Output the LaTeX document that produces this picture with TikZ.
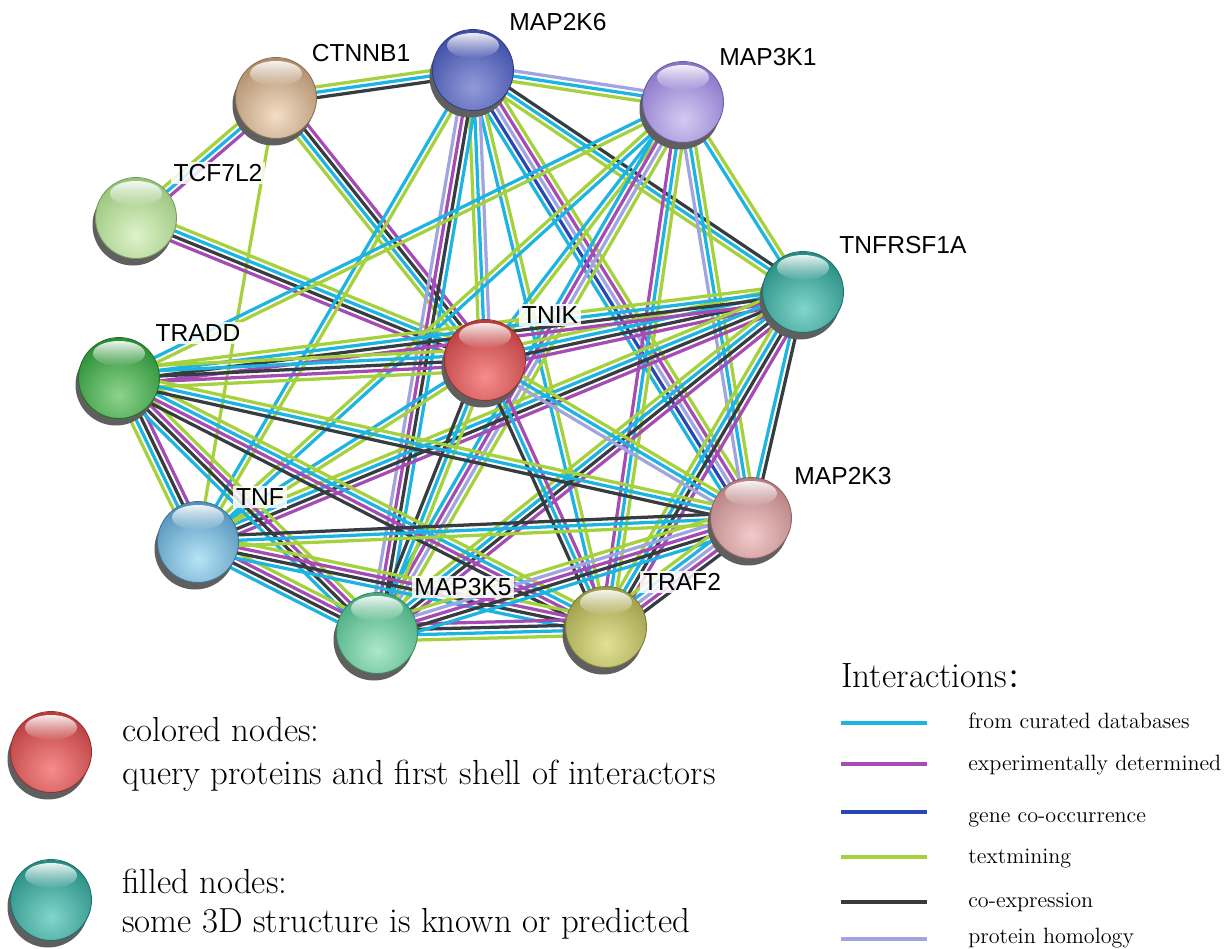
\documentclass[tikz,border=0pt]{standalone}
\usepackage{fontspec}
\newfontfamily\lab{Liberation Sans}
\newfontfamily\cjk{Noto Sans CJK SC}
\usetikzlibrary{calc,fadings}
\pgfdeclarelayer{bg}
\pgfdeclarelayer{edges}
\pgfsetlayers{bg,edges,main}
\definecolor{cu}{RGB}{30,180,225}
\definecolor{ex}{RGB}{165,75,180}
\definecolor{co}{RGB}{40,70,180}
\definecolor{tm}{RGB}{165,210,60}
\definecolor{ce}{RGB}{55,60,65}
\definecolor{ph}{RGB}{160,165,225}
\definecolor{shd}{RGB}{95,95,95}
% ball colours (dark / light)
\definecolor{CTd}{RGB}{175,140,105}\definecolor{CTl}{RGB}{242,222,198}
\definecolor{M6d}{RGB}{60,75,165}\definecolor{M6l}{RGB}{145,155,218}
\definecolor{M1d}{RGB}{135,115,200}\definecolor{M1l}{RGB}{212,202,242}
\definecolor{TCd}{RGB}{150,195,120}\definecolor{TCl}{RGB}{222,242,202}
\definecolor{TRd}{RGB}{35,140,130}\definecolor{TRl}{RGB}{130,212,202}
\definecolor{TKd}{RGB}{185,60,60}\definecolor{TKl}{RGB}{246,140,140}
\definecolor{TDd}{RGB}{40,140,50}\definecolor{TDl}{RGB}{140,212,140}
\definecolor{M3d}{RGB}{180,125,125}\definecolor{M3l}{RGB}{242,202,202}
\definecolor{TFd}{RGB}{80,145,185}\definecolor{TFl}{RGB}{182,228,246}
\definecolor{M5d}{RGB}{70,170,125}\definecolor{M5l}{RGB}{172,232,202}
\definecolor{T2d}{RGB}{155,155,70}\definecolor{T2l}{RGB}{226,226,150}
\tikzset{
  ball/.style 2 args={circle, minimum size=1.62cm, inner sep=0pt, draw=#1!80!black, line width=0.5pt,
    path picture={
      \shade[inner color=#2, outer color=#1] ([yshift=-0.35cm]path picture bounding box.center) circle (1.15cm);
      \fill[white, path fading=south, opacity=0.9] ([yshift=0.49cm]path picture bounding box.center) ellipse (0.52cm and 0.25cm);
    }},
  edge/.style={line width=1.85pt},
  lbl/.style={font=\lab\fontsize{14}{16}\selectfont, fill=white, fill opacity=0.85, text opacity=1, inner sep=1.5pt},
  legline/.style={line width=2pt},
  legtxt/.style={anchor=base west, font=\fontsize{12.6}{14}\selectfont, inner sep=0pt},
  bigtxt/.style={anchor=base west, font=\fontsize{19.8}{22}\selectfont, inner sep=0pt},
}
\newcommand\ballnode[4]{%
  \fill[shd] ($(#2)+(-3,7)$) circle (0.81cm);
  \node[ball={#3}{#4}] (#1) at (#2) {};}
\newcommand\edg[3]{%
  \begin{pgfonlayer}{edges}
  \foreach \cc [count=\i] in {#3} {\xdef\ecnt{\i}}%
  \foreach \cc [count=\i] in {#3} {%
    \pgfmathsetmacro\off{(\i-(\ecnt+1)/2)*3.05}%
    \draw[edge, draw=\cc] ($(#1)!\off pt!90:(#2)$) -- ($(#2)!\off pt!-90:(#1)$);
  }
  \end{pgfonlayer}}
\begin{document}
\begin{tikzpicture}[x=0.02cm, y=-0.02cm]
\begin{pgfonlayer}{bg}
\fill[white] (0,0) rectangle (1225,948);
\end{pgfonlayer}
\useasboundingbox (0,0) rectangle (1225,948);
% nodes
\ballnode{CT}{276,98}{CTd}{CTl}
\ballnode{M6}{473,70}{M6d}{M6l}
\ballnode{M1}{683,102}{M1d}{M1l}
\ballnode{TC}{136,218}{TCd}{TCl}
\ballnode{TR}{803,292}{TRd}{TRl}
\ballnode{TK}{485,360}{TKd}{TKl}
\ballnode{TD}{119,378}{TDd}{TDl}
\ballnode{M3}{751,518}{M3d}{M3l}
\ballnode{TF}{198,542}{TFd}{TFl}
\ballnode{M5}{377,633}{M5d}{M5l}
\ballnode{T2}{606,627}{T2d}{T2l}
% edges
\edg{CT}{M6}{ce,cu,tm}
\edg{CT}{TC}{tm,cu,ex}
\edg{CT}{TK}{tm,cu,ce,ex}
\edg{CT}{TF}{tm}
\edg{TC}{TK}{ex,ce,cu,tm}
\edg{M6}{M1}{tm,cu,ph}
\edg{M6}{TR}{tm,cu,ce}
\edg{M6}{M3}{cu,co,ph,ex,tm}
\edg{M6}{T2}{cu,tm}
\edg{M6}{TK}{tm,cu,ph}
\edg{M6}{M5}{ph,ex,ce,cu}
\edg{M6}{TF}{cu,tm}
\edg{M1}{TR}{cu,tm}
\edg{M1}{M3}{ph,cu,tm}
\edg{M1}{T2}{ex,cu,tm}
\edg{M1}{TK}{cu,tm}
\edg{M1}{M5}{cu,ex,ph,tm}
\edg{M1}{TF}{tm,cu}
\edg{M1}{TD}{cu,tm}
\edg{TR}{TK}{tm,cu,ce,ex}
\edg{TR}{TD}{tm,cu,ce,ex}
\edg{TR}{TF}{tm,cu,ce,ex}
\edg{TR}{M5}{tm,cu,ce,ex}
\edg{TR}{T2}{tm,cu,ce,ex}
\edg{TR}{M3}{cu,ce}
\edg{TK}{TD}{tm,cu,ce,ex,tm}
\edg{TK}{TF}{cu,tm}
\edg{TK}{M5}{ce,cu,tm}
\edg{TK}{T2}{ce,cu,ex}
\edg{TK}{M3}{ph,cu,tm}
\edg{TD}{TF}{tm,cu,ce,ex}
\edg{TD}{M5}{cu,ce,ex,tm}
\edg{TD}{T2}{ce,ex,cu,tm}
\edg{TD}{M3}{ce,cu,tm}
\edg{TF}{M5}{cu,ce,ex,tm}
\edg{TF}{T2}{cu,ce,ex,tm}
\edg{TF}{M3}{tm,cu,ce}
\edg{M5}{T2}{tm,cu,ce,ex}
\edg{M5}{M3}{cu,ce,ex,ph,tm}
\edg{T2}{M3}{ce,ex,ph,cu,tm}
% labels
\node[lbl] (lCT) at (361,53) {CTNNB1};
\node[lbl] (lM6) at (558,22) {MAP2K6};
\node[lbl] (lM1) at (768,57) {MAP3K1};
\node[lbl] (lTC) at (218,173) {TCF7L2};
\node[lbl] (lTR) at (903,245) {TNFRSF1A};
\node[lbl] (lTK) at (550,315) {TNIK};
\node[lbl] (lTD) at (198,333) {TRADD};
\node[lbl] (lM3) at (843,476) {MAP2K3};
\node[lbl] (lTF) at (260,497) {TNF};
\node[lbl] (lM5) at (463,587) {MAP3K5};
\node[lbl] (lT2) at (682,582) {TRAF2};
% left legend
\ballnode{legR}{51,752}{TKd}{TKl}
\ballnode{legT}{51,900}{TRd}{TRl}
\node[bigtxt] (t1) at (122,741) {colored nodes:};
\node[bigtxt] (t2) at (122,784) {query proteins and first shell of interactors};
\node[bigtxt] (t3) at (122,893) {filled nodes:};
\node[bigtxt] (t4) at (122,932) {some 3D structure is known or predicted};
% right legend
\node[anchor=base west, inner sep=0pt, font=\fontsize{20}{24}\selectfont] (it) at (841,687) {Interactions{\cjk\fontsize{15}{18}\selectfont ：}};
\foreach \c/\y/\t/\b [count=\k] in {cu/723/from curated databases/728, ex/764/experimentally determined/770, co/812/gene co-occurrence/822, tm/857/textmining/863, ce/902/co-expression/907, ph/939/protein homology/943}{
  \coordinate (la\k) at (841,\y);
  \coordinate (lb\k) at (927,\y);
  \draw[legline, draw=\c] (la\k) -- (lb\k);
  \node[legtxt] (lt\k) at (968,\b) {\t};
}
\end{tikzpicture}
\end{document}
